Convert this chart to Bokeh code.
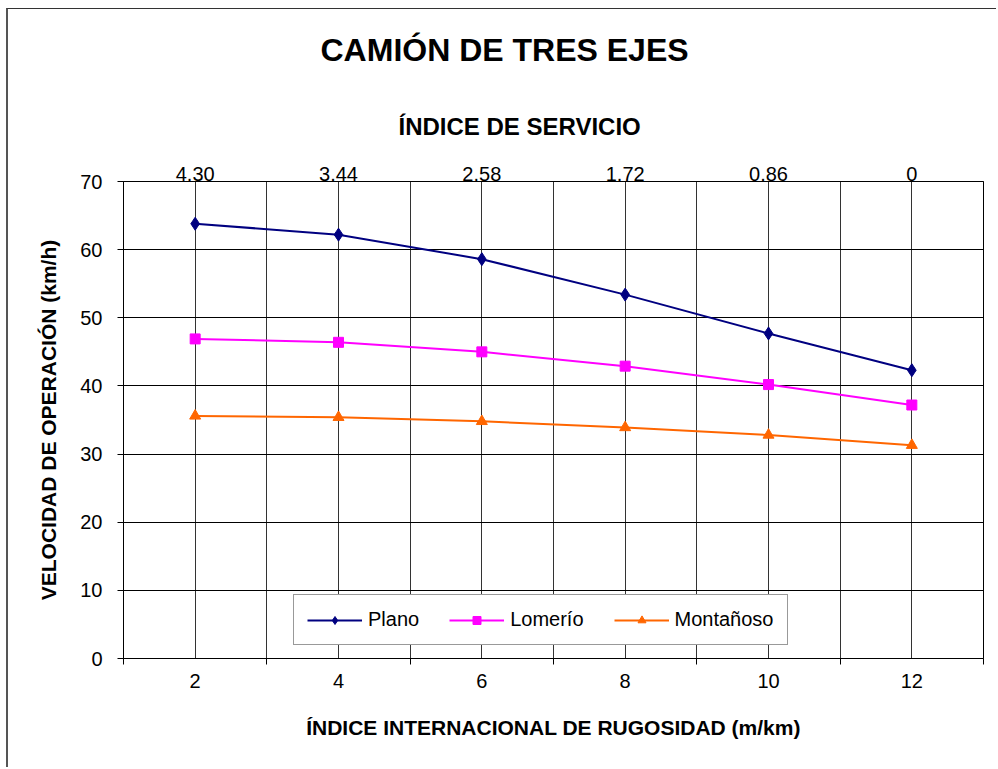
from bokeh.plotting import figure
from bokeh.models import LinearAxis, FixedTicker, Legend, LegendItem, Title, Range1d
from bokeh.embed import file_html
from bokeh.resources import INLINE

# ---- data ----
iri = [2, 4, 6, 8, 10, 12]
servicio_labels = ["4.30", "3.44", "2.58", "1.72", "0.86", "0"]
plano = [63.8, 62.2, 58.6, 53.4, 47.7, 42.3]
lomerio = [46.9, 46.4, 45.0, 42.9, 40.2, 37.2]
montanoso = [35.6, 35.4, 34.8, 33.9, 32.8, 31.3]
y_ticks = [0, 10, 20, 30, 40, 50, 60, 70]

title_text = "CAMIÓN DE TRES EJES"
top_title = "ÍNDICE DE SERVICIO"
x_title = "ÍNDICE INTERNACIONAL DE RUGOSIDAD (m/km)"
y_title = "VELOCIDAD DE OPERACIÓN (km/h)"

FONT = "Liberation Sans"

step = iri[1] - iri[0]
half = step / 2
boundaries = [v - half for v in iri] + [iri[-1] + half]
grid_x = sorted(set(iri + boundaries[1:-1]))

p = figure(width=990, height=759, output_backend="svg", toolbar_location=None,
           x_range=Range1d(boundaries[0], boundaries[-1]),
           y_range=Range1d(y_ticks[0], y_ticks[-1]),
           min_border_left=115, min_border_right=15, min_border_top=172, min_border_bottom=110,
           x_axis_location=None, y_axis_location=None,
           background_fill_color="white", border_fill_color="white")
p.styles = {"border-left": "2px solid #555555", "border-top": "1px solid #333333",
            "margin-left": "6px", "margin-top": "8px"}

p.outline_line_color = "black"
p.outline_line_width = 1

# axes
xaxis = LinearAxis(ticker=FixedTicker(ticks=iri, minor_ticks=boundaries),
                   axis_label=x_title)
xaxis.major_tick_out = 0
xaxis.major_tick_in = 0
xaxis.minor_tick_out = 6
xaxis.minor_tick_in = 0
xaxis.minor_tick_line_color = "black"
xaxis.axis_line_color = "black"
xaxis.major_label_text_font = FONT
xaxis.major_label_text_font_size = "20px"
xaxis.major_label_text_color = "black"
xaxis.major_label_standoff = 9
xaxis.axis_label_text_font = FONT
xaxis.axis_label_text_font_size = "21px"
xaxis.axis_label_text_font_style = "bold"
xaxis.axis_label_text_color = "black"
xaxis.axis_label_standoff = 25
p.add_layout(xaxis, "below")

yaxis = LinearAxis(ticker=FixedTicker(ticks=y_ticks), axis_label=y_title)
yaxis.major_tick_out = 6
yaxis.major_tick_in = 0
yaxis.minor_tick_line_color = None
yaxis.axis_line_color = "black"
yaxis.major_tick_line_color = "black"
yaxis.major_label_text_font = FONT
yaxis.major_label_text_font_size = "20px"
yaxis.major_label_text_color = "black"
yaxis.major_label_standoff = 15
yaxis.axis_label_text_font = FONT
yaxis.axis_label_text_font_size = "21px"
yaxis.axis_label_text_font_style = "bold"
yaxis.axis_label_text_color = "black"
yaxis.axis_label_standoff = 17
p.add_layout(yaxis, "left")

taxis = LinearAxis(ticker=FixedTicker(ticks=iri))
taxis.major_label_overrides = {v: s for v, s in zip(iri, servicio_labels)}
taxis.major_tick_out = 0
taxis.major_tick_in = 0
taxis.minor_tick_line_color = None
taxis.axis_line_color = "black"
taxis.major_label_text_font = FONT
taxis.major_label_text_font_size = "20px"
taxis.major_label_text_color = "black"
taxis.major_label_standoff = 1
p.add_layout(taxis, "above")

t2 = Title(text=top_title, align="left", offset=275, standoff=48,
           text_font=FONT, text_font_size="24px", text_font_style="bold", text_color="black")
p.add_layout(t2, "above")

p.title.text = title_text
p.title.align = "left"
p.title.offset = 197
p.title.standoff = 38
p.title.text_font = FONT
p.title.text_font_size = "32px"
p.title.text_font_style = "bold"
p.title.text_color = "black"

# grids
p.xgrid.ticker = FixedTicker(ticks=grid_x)
p.xgrid.grid_line_color = "#333333"
p.xgrid.grid_line_width = 1
p.ygrid.ticker = FixedTicker(ticks=y_ticks)
p.ygrid.grid_line_color = "black"
p.ygrid.grid_line_width = 1

# series
series = [
    ("Plano", plano, "#000080", "diamond", 13),
    ("Lomerío", lomerio, "#FF00FF", "square", 10),
    ("Montañoso", montanoso, "#FF6600", "triangle", 11),
]
items = []
for name, vals, color, marker, size in series:
    ln = p.line(iri, vals, line_color=color, line_width=2)
    sc = p.scatter(iri, vals, marker=marker, size=size, fill_color=color, line_color=color)
    items.append(LegendItem(label=name, renderers=[ln, sc]))

legend = Legend(items=items, orientation="horizontal", location=(170, 13),
                label_text_font=FONT, label_text_font_size="20px", label_text_color="black",
                glyph_width=55, glyph_height=20, label_standoff=6, spacing=30, padding=13,
                border_line_color="#333333", border_line_width=1,
                background_fill_color="white", background_fill_alpha=1.0)
p.add_layout(legend, "center")

open("out.html", "w").write(file_html(p, INLINE))
